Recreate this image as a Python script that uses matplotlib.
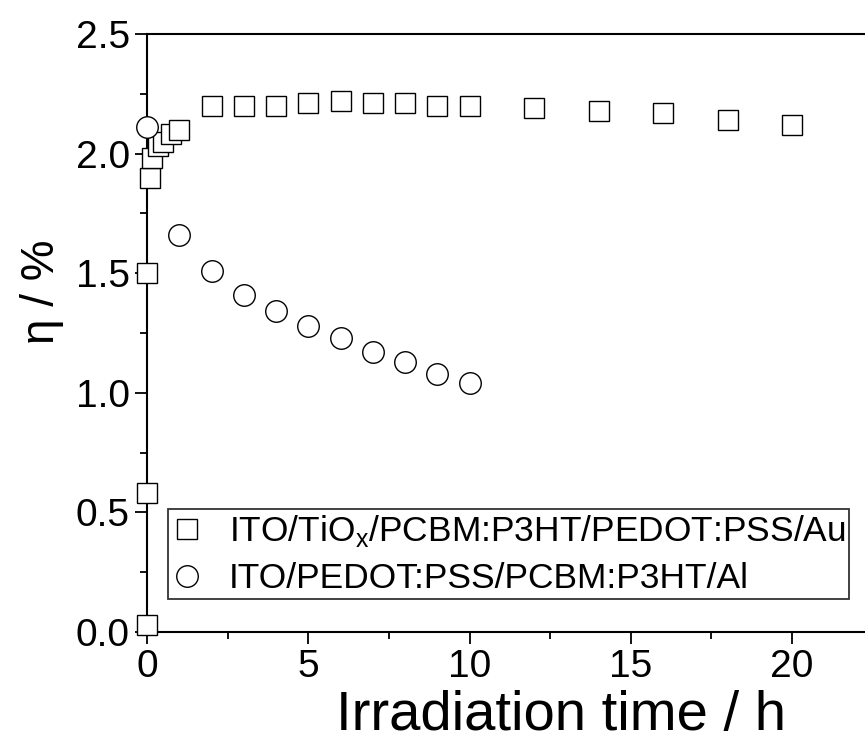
'''
plot_efficiency
-----------------------------------------------------------
efficiency vs irradiation time for two device stacks.
'''
# load packages -------------------------------------------
import matplotlib
matplotlib.use('Agg')
import matplotlib.pyplot as plt
from matplotlib.ticker import MultipleLocator, FormatStrFormatter

# set data ------------------------------------------------
# inverted cell (ITO/TiOx/.../Au):
t_inv = [0, 0, 0, 0.1, 0.17, 0.33, 0.5, 0.75, 1.0,
         2, 3, 4, 5, 6, 7, 8, 9, 10, 12, 14, 16, 18, 20]
eta_inv = [0.03, 0.58, 1.50, 1.90, 1.98, 2.03, 2.05, 2.08, 2.10,
           2.20, 2.20, 2.20, 2.21, 2.22, 2.21, 2.21, 2.20, 2.20,
           2.19, 2.18, 2.17, 2.14, 2.12]

# normal cell (ITO/PEDOT:PSS/.../Al):
t_norm = [0, 1, 2, 3, 4, 5, 6, 7, 8, 9, 10]
eta_norm = [2.11, 1.66, 1.51, 1.41, 1.34, 1.28, 1.23, 1.17, 1.13, 1.08, 1.04]

lbl_inv = r'ITO/TiO$_\mathregular{x}$/PCBM:P3HT/PEDOT:PSS/Au'
lbl_norm = 'ITO/PEDOT:PSS/PCBM:P3HT/Al'

# style ---------------------------------------------------
plt.rcParams['font.family'] = ['Liberation Sans', 'DejaVu Sans']
plt.rcParams['mathtext.fontset'] = 'custom'
plt.rcParams['mathtext.rm'] = 'Liberation Sans'

# plot data -----------------------------------------------
fig = plt.figure(figsize=(8.65, 7.42), dpi=100)
ax = fig.add_axes([147 / 865, 110 / 742, 1 - 147 / 865, 598 / 742])

ax.plot(t_inv, eta_inv, 's', ms=14, mfc='white', mec='black',
        mew=1.0, clip_on=False, zorder=3, label=lbl_inv)
ax.plot(t_norm, eta_norm, 'o', ms=15.5, mfc='white', mec='black',
        mew=1.0, clip_on=False, zorder=4, label=lbl_norm)

ax.set_xlim(0, 22.26)
ax.set_ylim(0, 2.5)
ax.xaxis.set_major_locator(MultipleLocator(5))
ax.xaxis.set_minor_locator(MultipleLocator(2.5))
ax.yaxis.set_major_locator(MultipleLocator(0.5))
ax.yaxis.set_minor_locator(MultipleLocator(0.25))
ax.yaxis.set_major_formatter(FormatStrFormatter('%.1f'))

for side in ['left', 'bottom', 'top']:
    ax.spines[side].set_linewidth(1.5)
ax.spines['right'].set_visible(False)

ax.tick_params(which='major', direction='out', length=8.5, width=1.3,
               labelsize=28, pad=4)
ax.tick_params(which='minor', direction='out', length=5, width=1.3)

# axis labels:
ax.set_xlabel('Irradiation time / h', fontsize=40.5)
ax.xaxis.set_label_coords(0.577, -0.141)
ax.xaxis.label.set_verticalalignment('center')
ax.set_ylabel('η / %', fontsize=33)
ax.yaxis.set_label_coords(-0.146, 0.569)
ax.yaxis.label.set_verticalalignment('center')
ax.yaxis.label.set_horizontalalignment('center')

# legend:
leg = ax.legend(loc='lower left', bbox_to_anchor=(167.7 / 865, 143 / 742),
                bbox_transform=fig.transFigure, borderaxespad=0,
                fontsize=25.5, frameon=True, fancybox=False,
                handletextpad=0.71, handlelength=0.91, labelspacing=0.38,
                borderpad=0.1)
leg.get_frame().set_edgecolor('black')
leg.get_frame().set_linewidth(1.3)

fig.savefig('out.png', dpi=100)

# finish routine ------------------------------------------
